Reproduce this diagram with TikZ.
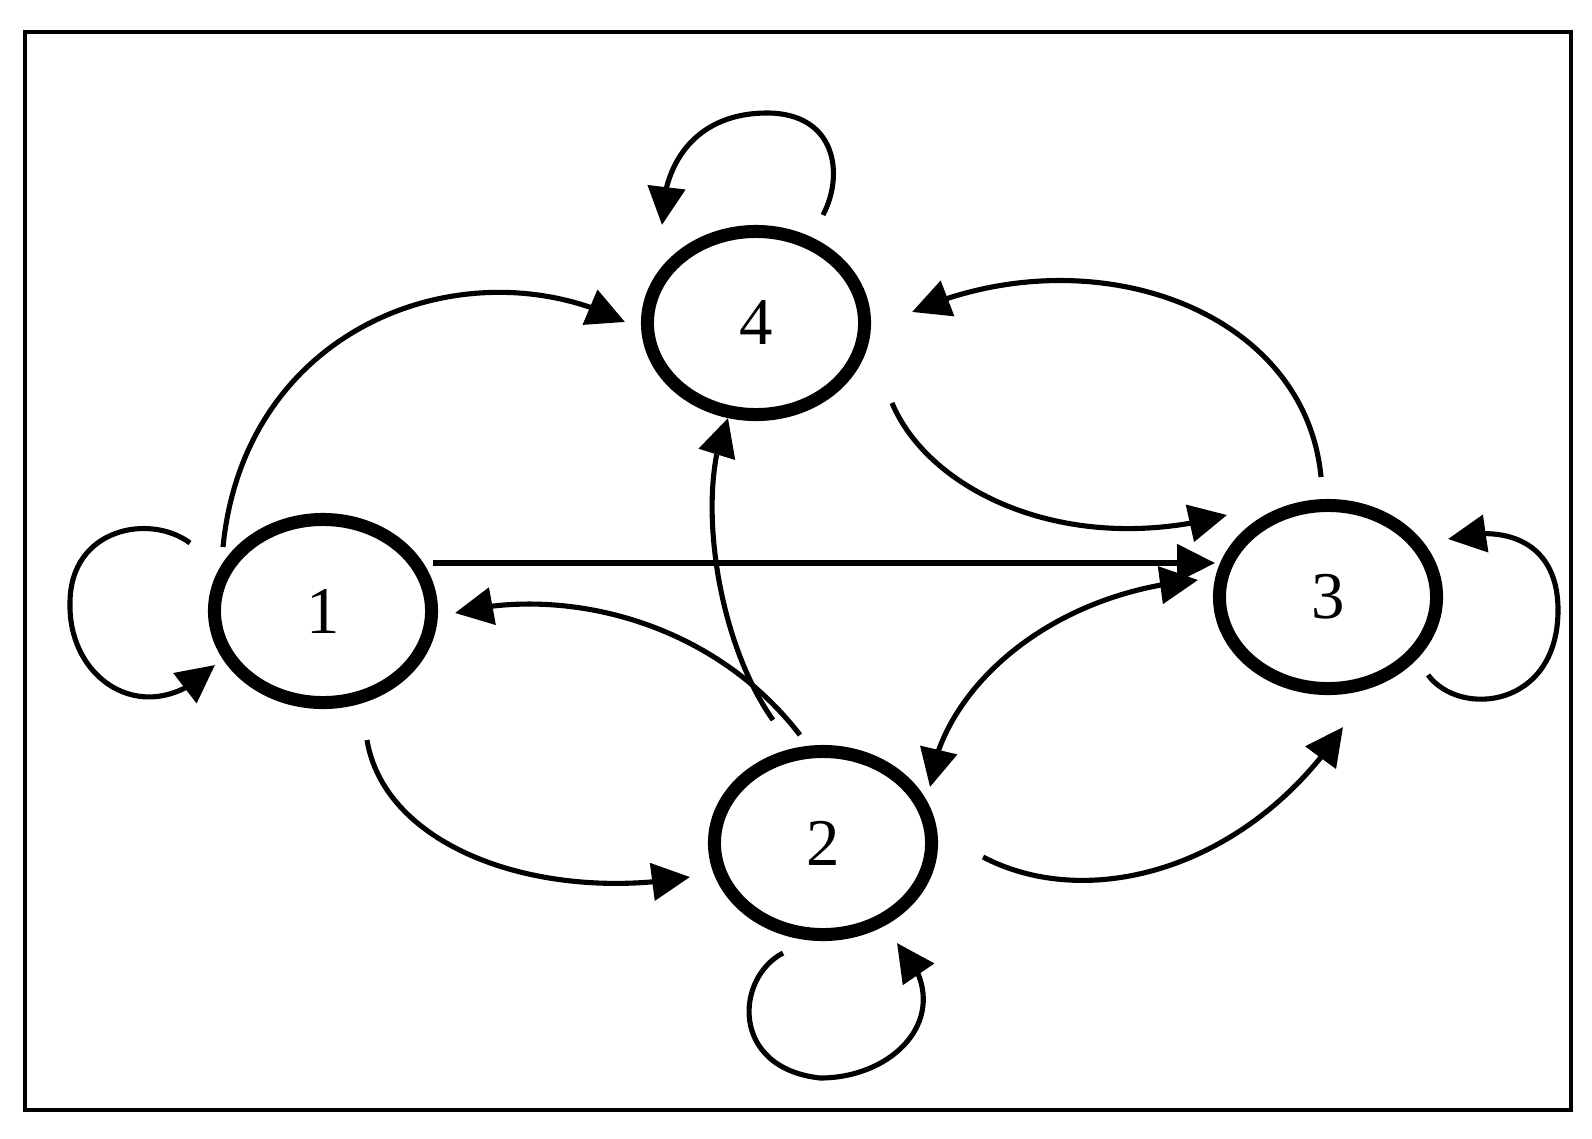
\documentclass[tikz,border=0pt]{standalone}
\usepackage{fontspec}
\setmainfont{Liberation Serif}
\usetikzlibrary{arrows.meta,bending,shapes.geometric,calc}
\begin{document}
\begin{tikzpicture}[x=0.01cm,y=0.01cm,>={Triangle[length=0.38cm,width=0.37cm]},line width=1.45pt,
		state/.style={draw,ellipse,line width=3.7pt,minimum width=2.17cm,minimum height=1.83cm,inner sep=0pt,font=\fontsize{19}{22}\selectfont}]
	\useasboundingbox (0,0) rectangle (1592,1138);
	\draw[line width=1.2pt] (25,28) rectangle (1571,1106);
	\node[state] (s1) at (323,527) {1};
	\node[state] (s2) at (823,295) {2};
	\node[state] (s3) at (1328,541) {3};
	\node[state] (s4) at (756,815) {4};
	% loops
	\draw[->] ($(s1)+(-133,68)$) .. controls (150,625) and (70,610) .. (70,535) .. controls (68,455) and (150,405) .. ($(s1)+(-108,-54)$);
	\draw[->] ($(s2)+(-40,-110)$) .. controls (735,160) and (730,70) .. (820,60) .. controls (900,60) and (960,130) .. ($(s2)+(74,-100)$);
	\draw[->] ($(s3)+(100,-78)$) .. controls (1460,420) and (1558,430) .. (1558,528) .. controls (1558,600) and (1500,614) .. ($(s3)+(120,58)$);
	\draw[->] ($(s4)+(67,108)$) .. controls (845,965) and (835,1025) .. (767,1025) .. controls (700,1025) and (662,980) .. ($(s4)+(-94,98)$);
	% transitions
	\draw[->] ($(s1)+(-100,64)$) .. controls (245,815) and (470,895) .. ($(s4)+(-131,1)$);
	\draw[->] ($(s1)+(110,48)$) -- ($(s3)+(-113,34)$);
	\draw[->] ($(s1)+(44,-129)$) .. controls (385,290) and (540,235) .. ($(s2)+(-133,-34)$);
	\draw[->] ($(s2)+(-23,108)$) .. controls (710,520) and (560,552) .. ($(s1)+(132,-2)$);
	\draw[->] ($(s2)+(-50,123)$) .. controls (715,500) and (695,650) .. ($(s4)+(-28,-95)$);
	\draw[->] ($(s2)+(160,-14)$) .. controls (1090,225) and (1250,270) .. ($(s3)+(15,-130)$);
	\draw[<->] ($(s2)+(107,56)$) .. controls (940,445) and (1045,545) .. ($(s3)+(-130,17)$);
	\draw[->] ($(s4)+(136,-80)$) .. controls (930,645) and (1070,580) .. ($(s3)+(-101,82)$);
	\draw[->] ($(s3)+(-7,120)$) .. controls (1305,830) and (1090,905) .. ($(s4)+(156,11)$);
\end{tikzpicture}
\end{document}
